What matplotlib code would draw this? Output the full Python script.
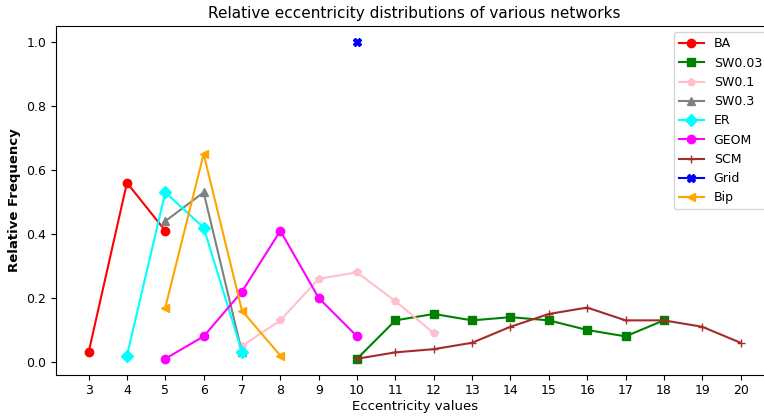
import matplotlib
matplotlib.use("Agg")
import matplotlib.pyplot as plt

# eccentricity values and relative frequencies per network
ba_x = [3, 4, 5]
ba_y = [0.03, 0.56, 0.41]
sw003_x = [10, 11, 12, 13, 14, 15, 16, 17, 18]
sw003_y = [0.01, 0.13, 0.15, 0.13, 0.14, 0.13, 0.10, 0.08, 0.13]
sw01_x = [7, 8, 9, 10, 11, 12]
sw01_y = [0.05, 0.13, 0.26, 0.28, 0.19, 0.09]
sw03_x = [5, 6, 7]
sw03_y = [0.44, 0.53, 0.03]
er_x = [4, 5, 6, 7]
er_y = [0.02, 0.53, 0.42, 0.03]
geom_x = [5, 6, 7, 8, 9, 10]
geom_y = [0.01, 0.08, 0.22, 0.41, 0.20, 0.08]
scm_x = [10, 11, 12, 13, 14, 15, 16, 17, 18, 19, 20]
scm_y = [0.01, 0.03, 0.04, 0.06, 0.11, 0.15, 0.17, 0.13, 0.13, 0.11, 0.06]
grid_x = [10]
grid_y = [1.0]
bip_x = [5, 6, 7, 8]
bip_y = [0.17, 0.65, 0.16, 0.02]

series = [
    ("BA", ba_x, ba_y, "red", "o"),
    ("SW0.03", sw003_x, sw003_y, "green", "s"),
    ("SW0.1", sw01_x, sw01_y, "pink", "p"),
    ("SW0.3", sw03_x, sw03_y, "gray", "^"),
    ("ER", er_x, er_y, "cyan", "D"),
    ("GEOM", geom_x, geom_y, "magenta", "o"),
    ("SCM", scm_x, scm_y, "brown", "+"),
    ("Grid", grid_x, grid_y, "blue", "X"),
    ("Bip", bip_x, bip_y, "orange", "<"),
]

fig = plt.figure(figsize=(7.64, 4.17), dpi=100)
ax = fig.add_axes([0.0733, 0.1017, 0.9387, 0.8355])
for name, x, y, color, marker in series:
    ax.plot(x, y, color=color, marker=marker, label=name, linewidth=1.5, markersize=6)

ax.set_xticks(range(3, 21))
ax.set_yticks([0.0, 0.2, 0.4, 0.6, 0.8, 1.0])
ax.tick_params(labelsize=9)
ax.set_xlabel("Eccentricity values", fontsize=9.5, labelpad=2)
ax.set_ylabel("Relative Frequency", fontsize=9.5, fontweight="bold")
ax.set_title("Relative eccentricity distributions of various networks", fontsize=11, pad=6)
ax.legend(loc="upper right", fontsize=9)

fig.savefig("out.png", dpi=100)
